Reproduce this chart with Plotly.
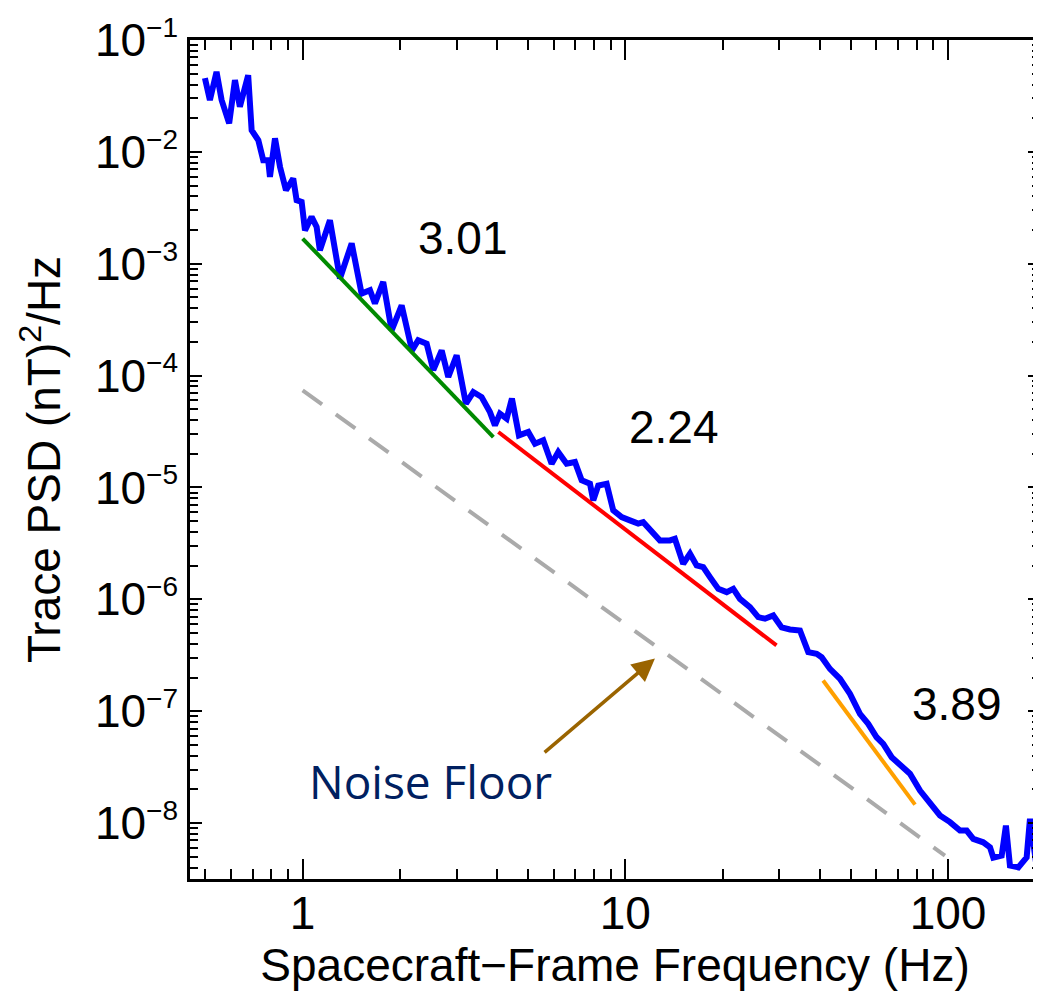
import numpy as np
import plotly.graph_objects as go

# ---- data ----
freq = [0.498, 0.516, 0.541, 0.561, 0.592, 0.617, 0.639, 0.678, 0.695, 0.729,
        0.755, 0.782, 0.792, 0.821, 0.851, 0.888, 0.935, 0.958, 0.993, 1.017,
        1.066, 1.105, 1.131, 1.215, 1.305, 1.419, 1.523, 1.617, 1.675, 1.777,
        1.887, 2.027, 2.182, 2.281, 2.423, 2.540, 2.697, 2.827, 3.001, 3.206,
        3.379, 3.586, 3.806, 3.944, 4.087, 4.287, 4.452, 4.680, 5.002, 5.248,
        5.567, 5.910, 6.195, 6.578, 6.980, 7.322, 7.769, 7.954, 8.241, 8.750,
        9.173, 9.739, 10.33, 10.96, 11.36, 12.06, 12.80, 13.75, 14.24, 15.11,
        15.86, 16.63, 17.43, 18.29, 19.41, 20.61, 21.60, 22.65, 24.33, 25.81,
        27.08, 28.73, 30.50, 32.37, 34.76, 36.88, 39.16, 40.58, 43.05, 46.24,
        49.66, 53.33, 56.57, 60.06, 62.98, 66.87, 71.82, 76.20, 81.86, 87.90,
        94.39, 101.4, 108.9, 114.2, 119.7, 128.5, 134.9, 138.1, 146.6, 151.1,
        155.5, 165.1, 175.2, 179.4, 188.2, 194.1]
psd = [4.56e-2, 2.90e-2, 5.19e-2, 2.90e-2, 1.80e-2, 4.38e-2, 2.53e-2, 4.85e-2, 1.56e-2, 1.27e-2,
       8.43e-3, 8.43e-3, 5.98e-3, 1.32e-2, 7.34e-3, 4.54e-3, 5.78e-3, 3.70e-3, 3.57e-3, 1.99e-3,
       2.62e-3, 2.13e-3, 1.32e-3, 2.45e-3, 7.37e-4, 1.52e-3, 5.41e-4, 5.79e-4, 4.41e-4, 6.88e-4,
       2.54e-4, 4.25e-4, 1.68e-4, 2.07e-4, 1.93e-4, 1.12e-4, 1.68e-4, 9.72e-5, 1.52e-4, 5.62e-5,
       7.13e-5, 6.43e-5, 4.72e-5, 3.59e-5, 4.57e-5, 4.12e-5, 6.23e-5, 2.92e-5, 3.13e-5, 2.46e-5,
       2.64e-5, 1.63e-5, 2.07e-5, 1.63e-5, 1.69e-5, 1.16e-5, 1.08e-5, 7.66e-6, 1.04e-5, 1.08e-5,
       6.24e-6, 5.43e-6, 5.08e-6, 4.75e-6, 4.90e-6, 4.13e-6, 3.36e-6, 3.36e-6, 3.48e-6, 2.08e-6,
       2.56e-6, 2.01e-6, 1.94e-6, 1.58e-6, 1.24e-6, 1.16e-6, 1.24e-6, 1.01e-6, 8.51e-7, 6.93e-7,
       6.71e-7, 7.18e-7, 5.61e-7, 5.38e-7, 5.27e-7, 3.37e-7, 3.26e-7, 3.04e-7, 2.39e-7, 1.95e-7,
       1.43e-7, 9.48e-8, 7.71e-8, 5.85e-8, 5.11e-8, 3.88e-8, 3.15e-8, 2.76e-8, 1.95e-8, 1.49e-8,
       1.17e-8, 1.02e-8, 8.57e-9, 8.57e-9, 7.22e-9, 6.73e-9, 6.07e-9, 4.91e-9, 5.12e-9, 9.50e-9,
       4.17e-9, 4.02e-9, 4.94e-9, 1.09e-8, 4.02e-9, 4.81e-9]

# power-law fit segments (endpoints) and slopes
fit1_f = [1.0, 3.9]
fit1_p = [1.68e-3, 2.82e-5]
fit2_f = [4.04, 29.4]
fit2_p = [3.13e-5, 3.87e-7]
fit3_f = [41.0, 79.0]
fit3_p = [1.88e-7, 1.46e-8]
slope_labels = ["3.01", "2.24", "3.89"]

noise_f = [1.0, 97.8]
noise_p = [7.39e-5, 5.12e-9]

x_tick_vals = [1, 10, 100]
x_tick_text = ["1", "10", "100"]
y_exponents = [-8, -7, -6, -5, -4, -3, -2, -1]

FONT = "Liberation Sans, Arial, Helvetica, sans-serif"
X_RANGE = [np.log10(0.4477), np.log10(192.7)]
Y_RANGE = [-8.5, -1.0]

fig = go.Figure()
fig.add_trace(go.Scatter(x=noise_f, y=noise_p, mode="lines",
                         line=dict(color="#aaaaaa", width=4, dash="24px,17px"),
                         showlegend=False))
fig.add_trace(go.Scatter(x=freq, y=psd, mode="lines",
                         line=dict(color="#0000ff", width=6),
                         showlegend=False))
fig.add_trace(go.Scatter(x=fit1_f, y=fit1_p, mode="lines",
                         line=dict(color="#008a00", width=4), showlegend=False))
fig.add_trace(go.Scatter(x=fit2_f, y=fit2_p, mode="lines",
                         line=dict(color="#ff0000", width=4), showlegend=False))
fig.add_trace(go.Scatter(x=fit3_f, y=fit3_p, mode="lines",
                         line=dict(color="#ffa000", width=4), showlegend=False))

y_tick_vals = [10.0 ** e for e in y_exponents]
y_tick_text = ["10<sup><span style='font-size:28px'>\u2212%d</span></sup>" % (-e) for e in y_exponents]
x_tick_label = ["<span style='baseline-shift:8px'>%s</span>" % t for t in x_tick_text]

common = dict(type="log", showline=True, linecolor="black", linewidth=2.5,
              mirror="ticks", ticks="inside", tickwidth=2, tickcolor="black",
              showgrid=False, zeroline=False,
              tickfont=dict(family=FONT, size=46, color="black"))

fig.update_layout(
    xaxis=dict(**common, range=X_RANGE,
               tickmode="array", tickvals=x_tick_vals, ticktext=x_tick_label,
               ticklen=20,
               minor=dict(ticks="inside", dtick="D1",
                          ticklen=10, tickwidth=2, tickcolor="black", showgrid=False),
               title=dict(text="<span style='baseline-shift:5px'>Spacecraft\u2212Frame Frequency (Hz)</span>",
                          font=dict(family=FONT, size=46, color="black"))),
    yaxis=dict(**common, range=Y_RANGE,
               tickmode="array", tickvals=y_tick_vals, ticktext=y_tick_text,
               ticklen=12,
               minor=dict(ticks="inside", dtick="D1",
                          ticklen=8, tickwidth=2, tickcolor="black", showgrid=False),
               title=dict(text="<span style='baseline-shift:5px'>Trace PSD (nT)<sup>2</sup>/Hz</span>",
                          font=dict(family=FONT, size=46, color="black"))),
)

annots = []
label_pos = [(0.4967, -2.770), (1.1509, -4.459), (2.0275, -6.936)]
for txt, (lx, ly) in zip(slope_labels, label_pos):
    annots.append(dict(x=lx, y=ly, xref="x", yref="y", text=txt, showarrow=False,
                       font=dict(family=FONT, size=46, color="black"),
                       xanchor="center", yanchor="middle"))

arrow_head = (12.35, 2.96e-7)
arrow_tail = (5.56, 4.18e-8)
annots.append(dict(x=np.log10(arrow_head[0]), y=np.log10(arrow_head[1]),
                   ax=np.log10(arrow_tail[0]), ay=np.log10(arrow_tail[1]),
                   xref="x", yref="y", axref="x", ayref="y", text="",
                   showarrow=True, arrowhead=2, arrowsize=1.3, arrowwidth=3.5,
                   arrowcolor="#9a6400"))
annots.append(dict(x=0.3976, y=-7.62, xref="x", yref="y",
                   text="Noise Floor", showarrow=False,
                   font=dict(family="Open Sans, Noto Sans, sans-serif", size=46, color="#002060"),
                   xanchor="center", yanchor="middle"))

# the page body adds an 8px margin: the figure is 8px smaller and its
# left/top margins 8px narrower so the plot lands where the reference has it
fig.update_layout(width=1033, height=998,
                  margin=dict(l=182, r=1, t=32, b=127, autoexpand=False),
                  paper_bgcolor="white", plot_bgcolor="white",
                  annotations=annots, showlegend=False)

fig.write_html("out.html")
